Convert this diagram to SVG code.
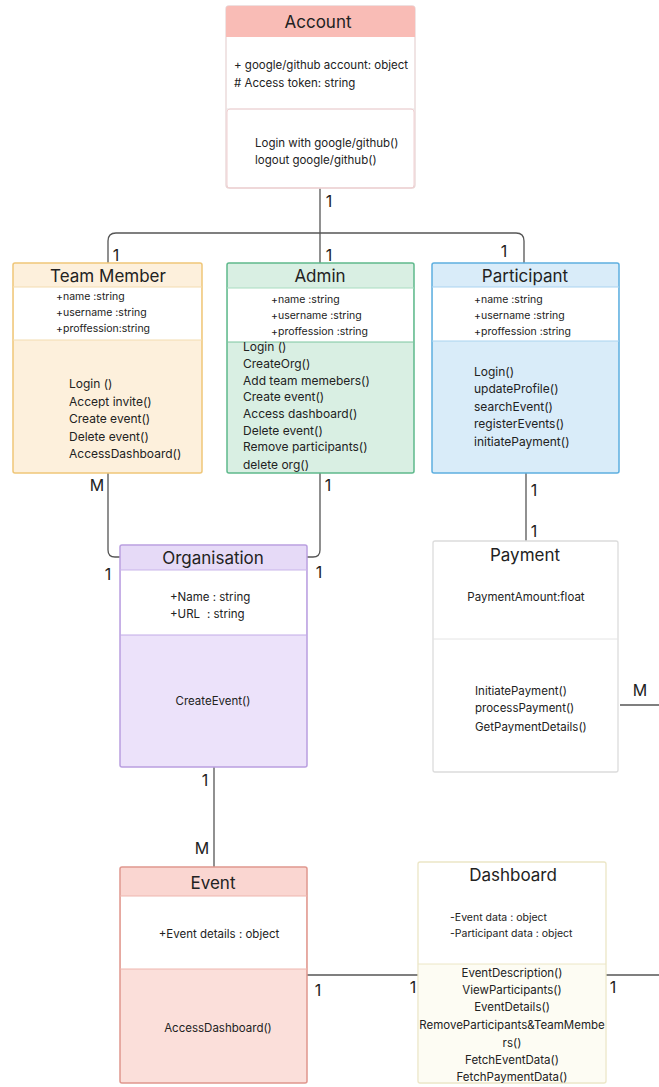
<svg xmlns="http://www.w3.org/2000/svg" width="659" height="1087" viewBox="0 0 659 1087">
  <style>
    text { font-family: Inter, "Noto Sans", "Liberation Sans", sans-serif; fill: #222; }
    .title { font-size: 17px; text-anchor: middle; }
    .attr { font-size: 10.5px; }
    .meth { font-size: 12px; }
    .small { font-size: 11.5px; }
    .mid { text-anchor: middle; }
    .mult { font-size: 16px; text-anchor: middle; fill: #222; }
    .conn { fill: none; stroke: #555; stroke-width: 1.3; }
  </style>

  <rect x="0" y="0" width="659" height="1087" fill="#ffffff"/>

  <!-- connectors -->
  <g id="connectors">
    <path class="conn" d="M320,188 V233"/>
    <path class="conn" d="M108,263 V241 Q108,233 116,233 H516 Q524,233 524,241 V263"/>
    <path class="conn" d="M320,233 V263"/>
    <path class="conn" d="M108,473 V550 Q108,557 115,557 H120"/>
    <path class="conn" d="M320,473 V550 Q320,557 313,557 H307"/>
    <path class="conn" d="M526,473 V541"/>
    <path class="conn" d="M214,767 V867"/>
    <path class="conn" d="M307,975 H418"/>
    <path class="conn" d="M606,975 H659"/>
    <path class="conn" d="M620,705 H659"/>

    <text class="mult" x="329" y="207">1</text>
    <text class="mult" x="116" y="261">1</text>
    <text class="mult" x="329" y="261">1</text>
    <text class="mult" x="504" y="257">1</text>
    <text class="mult" x="97" y="491">M</text>
    <text class="mult" x="108" y="580">1</text>
    <text class="mult" x="328" y="491">1</text>
    <text class="mult" x="319" y="578">1</text>
    <text class="mult" x="534" y="496">1</text>
    <text class="mult" x="534" y="537">1</text>
    <text class="mult" x="640" y="696">M</text>
    <text class="mult" x="205" y="786">1</text>
    <text class="mult" x="202" y="854">M</text>
    <text class="mult" x="318" y="996">1</text>
    <text class="mult" x="413" y="993">1</text>
    <text class="mult" x="613" y="993">1</text>
  </g>

  <!-- Account -->
  <g id="account">
    <rect x="226" y="6" width="189" height="182" rx="3" fill="#ffffff" stroke="#e9d6d6" stroke-width="1.3"/>
    <path d="M226,9 Q226,6 229,6 H412 Q415,6 415,9 V37 H226 Z" fill="#f9bcb6"/>
    <line x1="226" y1="109" x2="415" y2="109" stroke="#e8e2e2" stroke-width="1.2"/>
    <rect x="227" y="109" width="187" height="79" rx="3" fill="none" stroke="#f0d0d2" stroke-width="1"/>
    <text class="title" x="318" y="28">Account</text>
    <text class="small" x="234" y="69">+ google/github account: object</text>
    <text class="small" x="234" y="87"># Access token: string</text>
    <text class="small" x="255" y="147">Login with google/github()</text>
    <text class="small" x="255" y="164">logout google/github()</text>
  </g>

  <!-- Team Member -->
  <g id="team-member">
    <rect x="13" y="263" width="189" height="210" rx="2" fill="#fdf0dc" stroke="#efc678" stroke-width="1.5"/>
    <rect x="14" y="287" width="187" height="53" fill="#ffffff"/>
    <line x1="13" y1="287" x2="202" y2="287" stroke="#f3dcb0" stroke-width="1"/>
    <line x1="13" y1="340" x2="202" y2="340" stroke="#f3dcb0" stroke-width="1"/>
    <text class="title" x="108" y="282">Team Member</text>
    <text class="attr" x="56" y="300">+name :string</text>
    <text class="attr" x="56" y="316">+username :string</text>
    <text class="attr" x="56" y="332">+proffession:string</text>
    <text class="meth" x="69" y="388">Login ()</text>
    <text class="meth" x="69" y="406">Accept invite()</text>
    <text class="meth" x="69" y="423">Create event()</text>
    <text class="meth" x="69" y="441">Delete event()</text>
    <text class="meth" x="69" y="458">AccessDashboard()</text>
  </g>

  <!-- Admin -->
  <g id="admin">
    <rect x="227" y="263" width="187" height="210" rx="2" fill="#d9efe3" stroke="#5fb98c" stroke-width="1.5"/>
    <rect x="228" y="288" width="185" height="54" fill="#ffffff"/>
    <line x1="227" y1="288" x2="414" y2="288" stroke="#a8dcc0" stroke-width="1"/>
    <line x1="227" y1="342" x2="414" y2="342" stroke="#7cc6a0" stroke-width="1"/>
    <text class="title" x="320" y="282">Admin</text>
    <text class="attr" x="271" y="303">+name :string</text>
    <text class="attr" x="271" y="319">+username :string</text>
    <text class="attr" x="271" y="335">+proffession :string</text>
    <text class="meth" x="243" y="351">Login ()</text>
    <text class="meth" x="243" y="368">CreateOrg()</text>
    <text class="meth" x="243" y="385">Add team memebers()</text>
    <text class="meth" x="243" y="401">Create event()</text>
    <text class="meth" x="243" y="418">Access dashboard()</text>
    <text class="meth" x="243" y="435">Delete event()</text>
    <text class="meth" x="243" y="451">Remove participants()</text>
    <text class="meth" x="243" y="469">delete org()</text>
  </g>

  <!-- Participant -->
  <g id="participant">
    <rect x="432" y="263" width="187" height="210" rx="2" fill="#d9ecf9" stroke="#5dafe0" stroke-width="1.5"/>
    <rect x="433" y="287" width="185" height="54" fill="#ffffff"/>
    <line x1="432" y1="287" x2="619" y2="287" stroke="#a9d3f0" stroke-width="1"/>
    <line x1="432" y1="341" x2="619" y2="341" stroke="#a9d3f0" stroke-width="1"/>
    <text class="title" x="525" y="282">Participant</text>
    <text class="attr" x="474" y="303">+name :string</text>
    <text class="attr" x="474" y="319">+username :string</text>
    <text class="attr" x="474" y="335">+proffession :string</text>
    <text class="meth" x="474" y="376">Login()</text>
    <text class="meth" x="474" y="393">updateProfile()</text>
    <text class="meth" x="474" y="411">searchEvent()</text>
    <text class="meth" x="474" y="428">registerEvents()</text>
    <text class="meth" x="474" y="446">initiatePayment()</text>
  </g>

  <!-- Organisation -->
  <g id="organisation">
    <rect x="120" y="545" width="187" height="222" rx="2" fill="#ece2fa" stroke="#b99fe0" stroke-width="1.5"/>
    <path d="M121,546 H306 V570 H121 Z" fill="#e6daf7"/>
    <rect x="121" y="570" width="185" height="65" fill="#ffffff"/>
    <line x1="120" y1="570" x2="307" y2="570" stroke="#c9b5ea" stroke-width="1"/>
    <line x1="120" y1="635" x2="307" y2="635" stroke="#c1aae6" stroke-width="1"/>
    <text class="title" x="213" y="564">Organisation</text>
    <text class="small" x="170" y="601">+Name : string</text>
    <text class="small" x="170" y="618">+URL<tspan x="207">: string</tspan></text>
    <text class="small mid" x="213" y="705">CreateEvent()</text>
  </g>

  <!-- Payment -->
  <g id="payment">
    <rect x="433" y="541" width="185" height="231" rx="2" fill="#ffffff" stroke="#dcdcdc" stroke-width="1.3"/>
    <line x1="433" y1="639" x2="618" y2="639" stroke="#e4e4e4" stroke-width="1"/>
    <text class="title" x="525" y="561">Payment</text>
    <text class="small mid" x="526" y="601">PaymentAmount:float</text>
    <text class="small" x="475" y="695">InitiatePayment()</text>
    <text class="small" x="475" y="712">processPayment()</text>
    <text class="small" x="475" y="731">GetPaymentDetails()</text>
  </g>

  <!-- Event -->
  <g id="event">
    <rect x="120" y="867" width="187" height="216" rx="2" fill="#fbdfda" stroke="#e0968d" stroke-width="1.5"/>
    <path d="M121,868 H306 V896 H121 Z" fill="#fad6d1"/>
    <rect x="121" y="896" width="185" height="73" fill="#ffffff"/>
    <line x1="120" y1="896" x2="307" y2="896" stroke="#eeb6ae" stroke-width="1"/>
    <line x1="120" y1="969" x2="307" y2="969" stroke="#eeb6ae" stroke-width="1"/>
    <text class="title" x="213" y="889">Event</text>
    <text class="small mid" x="219" y="938">+Event details : object</text>
    <text class="small mid" x="218" y="1032">AccessDashboard()</text>
  </g>

  <!-- Dashboard -->
  <g id="dashboard">
    <rect x="418" y="862" width="188" height="221" rx="2" fill="#ffffff" stroke="#ece6c6" stroke-width="1.3"/>
    <rect x="419" y="964" width="186" height="118" fill="#fdfcf3"/>
    <line x1="418" y1="964" x2="606" y2="964" stroke="#ece6c6" stroke-width="1"/>
    <text class="title" x="513" y="881">Dashboard</text>
    <text class="attr" x="450" y="921">-Event data : object</text>
    <text class="attr" x="450" y="937">-Participant data : object</text>
    <text class="small mid" x="512" y="977">EventDescription()</text>
    <text class="small mid" x="512" y="994">ViewParticipants()</text>
    <text class="small mid" x="512" y="1011">EventDetails()</text>
    <text class="small mid" x="512" y="1029">RemoveParticipants&amp;TeamMembe</text>
    <text class="small mid" x="512" y="1047">rs()</text>
    <text class="small mid" x="512" y="1064">FetchEventData()</text>
    <text class="small mid" x="512" y="1081">FetchPaymentData()</text>
  </g>
</svg>
